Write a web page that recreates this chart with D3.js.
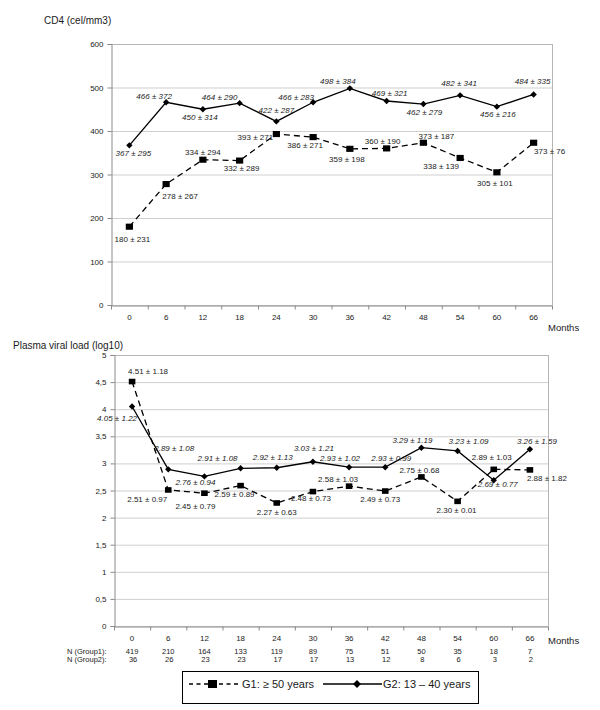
<!DOCTYPE html>
<html><head><meta charset="utf-8">
<script src="https://cdn.jsdelivr.net/npm/d3@7"></script>
<style>
body{margin:0;background:#fff;}
svg{display:block;font-family:"Liberation Sans",Arial,sans-serif;}
</style></head>
<body><svg id="c" width="600" height="710"></svg>
<script>
// ---------- DATA ----------
const months = ["0","6","12","18","24","30","36","42","48","54","60","66"];
const cd4G1 = [180,278,334,332,393,386,359,360,373,338,305,373];
const cd4G1sd = [231,267,294,289,271,271,198,190,187,139,101,76];
const cd4G2 = [367,466,450,464,422,466,498,469,462,482,456,484];
const cd4G2sd = [295,372,314,290,287,283,384,321,279,341,216,335];
const vlG1 = [4.51,2.51,2.45,2.59,2.27,2.48,2.58,2.49,2.75,2.30,2.89,2.88];
const vlG1sd = [1.18,0.97,0.79,0.89,0.63,0.73,1.03,0.73,0.68,0.01,1.03,1.82];
const vlG2 = [4.05,2.89,2.76,2.91,2.92,3.03,2.93,2.93,3.29,3.23,2.69,3.26];
const vlG2sd = [1.22,1.08,0.94,1.08,1.13,1.21,1.02,0.99,1.19,1.09,0.77,1.59];
const nGroup1 = [419,210,164,133,119,89,75,51,50,35,18,7];
const nGroup2 = [36,26,23,23,17,17,13,12,8,6,3,2];
const cd4Ticks = [0,100,200,300,400,500,600];
const vlTicks = [0,0.5,1,1.5,2,2.5,3,3.5,4,4.5,5];
const legendLabels = ["G1: \u2265 50 years","G2: 13 \u2013 40 years"];

// ---------- LAYOUT (label offsets, pixels) ----------
const offCd4G1 = [[3,12],[14,12],[0,-8],[2,8],[-21,3],[-8,8],[-3,10],[-4,-7],[13,-7],[-19,8],[-2,11],[16,8]];
const offCd4G2 = [[4,8],[-12,-6],[-3,8],[-20,-6],[0,-11],[-17,-5],[-12,-7],[3,-8],[1,8],[-1,-12],[1,8],[-1,-13]];
const offVlG1 = [[16,-10],[-21,9],[-9,13],[-6,9],[0,9],[-2,7],[-11,-7],[-5,8],[-2,-7],[-1,9],[-2,-12],[17,8]];
const offVlG2 = [[-15,12],[6,-21],[-9,6],[-23,-10],[-4,-11],[1,-14],[-9,-9],[6,-9],[-9,-7],[11,-10],[4,4],[7,-8]];

const svg = d3.select("#c");
const TXT = "#1a1a1a";

function drawChart(cfg){
  const {left,right,top,bottom,domain,ticks,fmt,title,titleX,titleY,monthsY,g1,g1sd,g2,g2sd,o1,o2,dec,mk} = cfg;
  const x = d3.scaleBand().domain(months).range([left,right]);
  const y = d3.scaleLinear().domain(domain).range([bottom,top]);
  const g = svg.append("g");
  // gridlines
  g.append("g").attr("transform",`translate(${left},0)`)
    .call(d3.axisLeft(y).tickValues(ticks).tickSize(-(right-left)).tickFormat(""))
    .call(s=>{s.select(".domain").remove();s.selectAll("line").attr("stroke","#cfcfcf").attr("stroke-width",1);});
  // border top/right
  g.append("line").attr("x1",left).attr("x2",right).attr("y1",top+0.5).attr("y2",top+0.5).attr("stroke","#b5b5b5");
  g.append("line").attr("x1",right+0.5).attr("x2",right+0.5).attr("y1",top).attr("y2",bottom).attr("stroke","#b5b5b5");
  // y axis
  g.append("g").attr("transform",`translate(${left+0.5},0)`)
    .call(d3.axisLeft(y).tickValues(ticks).tickSize(4).tickPadding(4).tickFormat(fmt))
    .call(s=>{s.select(".domain").attr("stroke","#8a8a8a");s.selectAll("line").attr("stroke","#8a8a8a");
      s.selectAll("text").attr("fill",TXT).style("font-size","8px").style("font-family","'Liberation Sans',Arial,sans-serif");});
  // x axis
  const xa = g.append("g").attr("transform",`translate(0,${bottom+0.5})`)
    .call(d3.axisBottom(x).tickSize(0).tickPadding(9))
    .call(s=>{s.select(".domain").attr("stroke","#8a8a8a");
      s.selectAll("text").attr("fill",TXT).style("font-size","8px").style("font-family","'Liberation Sans',Arial,sans-serif");});
  const bounds = months.map(m=>x(m)).concat([x(months[months.length-1])+x.bandwidth()]);
  xa.selectAll("line.bt").data(bounds).join("line").attr("class","bt")
    .attr("x1",d=>d+0.5).attr("x2",d=>d+0.5).attr("y1",0).attr("y2",4).attr("stroke","#8a8a8a");
  // titles
  g.append("text").attr("x",titleX).attr("y",titleY).attr("fill",TXT).style("font-size","10px").text(title);
  g.append("text").attr("x",548).attr("y",monthsY).attr("fill",TXT).style("font-size","9.5px").text("Months");
  const cx = i=>x(months[i])+x.bandwidth()/2;
  // G1 dashed
  const line = d3.line().x((d,i)=>cx(i)).y(d=>y(d));
  g.append("path").datum(g1).attr("d",line).attr("fill","none").attr("stroke","#000").attr("stroke-width",1.3).attr("stroke-dasharray","6,4");
  g.append("path").datum(g2).attr("d",line).attr("fill","none").attr("stroke","#000").attr("stroke-width",1.3);
  g.selectAll("rect.m1").data(g1).join("rect").attr("class","m1")
    .attr("x",(d,i)=>cx(i)-mk).attr("y",d=>y(d)-mk*0.85).attr("width",mk*2).attr("height",mk*1.7).attr("fill","#000");
  g.selectAll("path.m2").data(g2).join("path").attr("class","m2")
    .attr("d",d3.symbol().type(d3.symbolDiamond2).size(26))
    .attr("transform",(d,i)=>`translate(${cx(i)},${y(d)})`).attr("fill","#000");
  const f = v=>d3.format(dec)(v);
  g.selectAll("text.l1").data(g1).join("text").attr("class","l1")
    .attr("x",(d,i)=>cx(i)+o1[i][0]).attr("y",(d,i)=>y(d)+o1[i][1]).attr("dy","0.35em")
    .attr("text-anchor","middle").attr("fill",TXT).style("font-size","8px")
    .text((d,i)=>`${f(d)} \u00b1 ${f(g1sd[i])}`);
  g.selectAll("text.l2").data(g2).join("text").attr("class","l2")
    .attr("x",(d,i)=>cx(i)+o2[i][0]).attr("y",(d,i)=>y(d)+o2[i][1]).attr("dy","0.35em")
    .attr("text-anchor","middle").attr("fill",TXT).style("font-size","8px").style("font-style","italic")
    .text((d,i)=>`${f(d)} \u00b1 ${f(g2sd[i])}`);
  return {x,cx};
}

drawChart({left:111,right:552,top:44,bottom:305,domain:[0,600],ticks:cd4Ticks,fmt:d3.format("d"),
  title:"CD4 (cel/mm3)",titleX:44,titleY:24,monthsY:331,
  g1:cd4G1,g1sd:cd4G1sd,g2:cd4G2,g2sd:cd4G2sd,o1:offCd4G1,o2:offCd4G2,dec:"d",mk:3.6});

const bot = drawChart({left:114,right:548,top:355,bottom:626,domain:[0,5],ticks:vlTicks,fmt:v=>String(v).replace(".",","),
  title:"Plasma viral load (log10)",titleX:13,titleY:349,monthsY:644,
  g1:vlG1,g1sd:vlG1sd,g2:vlG2,g2sd:vlG2sd,o1:offVlG1,o2:offVlG2,dec:".2f",mk:3.3});

// N table
const nt = svg.append("g").style("font-size","7.5px").attr("fill",TXT);
nt.append("text").attr("x",67).attr("y",654).text("N (Group1):");
nt.append("text").attr("x",67).attr("y",662).text("N (Group2):");
nt.selectAll("text.n1").data(nGroup1).join("text").attr("class","n1")
  .attr("x",(d,i)=>bot.cx(i)).attr("y",654).attr("text-anchor","middle").text(d=>d);
nt.selectAll("text.n2").data(nGroup2).join("text").attr("class","n2")
  .attr("x",(d,i)=>bot.cx(i)+1).attr("y",662).attr("text-anchor","middle").text(d=>d);

// Legend
const lg = svg.append("g");
lg.append("rect").attr("x",182.5).attr("y",671.5).attr("width",296).attr("height",32).attr("fill","#fff").attr("stroke","#000").attr("stroke-width",1);
lg.append("line").attr("x1",189).attr("x2",240).attr("y1",684).attr("y2",684).attr("stroke","#000").attr("stroke-width",1.3).attr("stroke-dasharray","4,3.5");
lg.append("rect").attr("x",208).attr("y",680).attr("width",9).attr("height",8).attr("fill","#000");
lg.append("text").attr("x",242).attr("y",688).attr("fill",TXT).style("font-size","11px").text(legendLabels[0]);
lg.append("line").attr("x1",323).attr("x2",382).attr("y1",684).attr("y2",684).attr("stroke","#000").attr("stroke-width",1.3);
lg.append("path").attr("d",d3.symbol().type(d3.symbolDiamond2).size(40)).attr("transform","translate(357,684)").attr("fill","#000");
lg.append("text").attr("x",383).attr("y",688).attr("fill",TXT).style("font-size","11px").text(legendLabels[1]);
</script></body></html>
